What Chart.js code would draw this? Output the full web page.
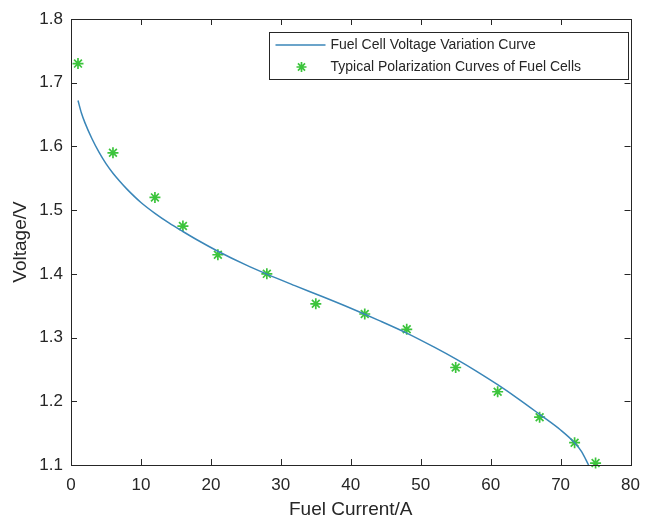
<!DOCTYPE html>
<html>
<head>
<meta charset="utf-8">
<script src="https://cdn.jsdelivr.net/npm/chart.js@4"></script>
<style>
  html, body { margin: 0; padding: 0; background: #fff; }
</style>
</head>
<body>
<canvas id="myChart" width="650" height="521"></canvas>
<script>
// fitted voltage curve
const curveX = [1, 1.5, 2, 3, 4, 5, 6, 7, 8, 10, 12, 14, 16, 18, 21, 25, 28, 32, 36, 40, 44, 48, 52, 55, 58, 61, 64, 67, 70, 72, 73, 74];
const curveY = [1.672, 1.652, 1.637, 1.612, 1.591, 1.573, 1.558, 1.545, 1.533, 1.512, 1.495, 1.480, 1.4665, 1.4535, 1.4355, 1.414, 1.3995, 1.3815, 1.364, 1.346, 1.327, 1.307, 1.2845, 1.2665, 1.247, 1.226, 1.2035, 1.1795, 1.155, 1.135, 1.121, 1.100];

// measured polarization points
const pointX = [1, 6, 12, 16, 21, 28, 35, 42, 48, 55, 61, 67, 72, 75];
const pointY = [1.73, 1.59, 1.52, 1.475, 1.43, 1.40, 1.353, 1.337, 1.313, 1.253, 1.215, 1.175, 1.135, 1.103];

const xTicks = [0, 10, 20, 30, 40, 50, 60, 70, 80];
const yTicks = [1.1, 1.2, 1.3, 1.4, 1.5, 1.6, 1.7, 1.8];

const lineLabel = "Fuel Cell Voltage Variation Curve";
const pointLabel = "Typical Polarization Curves of Fuel Cells";

const axisColor = "#262626";
const lineColor = "#3a86b8";
const starColor = "#3cc43c";

Chart.defaults.font.family = "'Liberation Sans', Arial, sans-serif";
Chart.defaults.color = axisColor;

const data = {
  datasets: [
    {
      label: lineLabel,
      data: curveX.map((x, i) => ({ x, y: curveY[i] })),
      showLine: true,
      borderColor: lineColor,
      borderWidth: 1.5,
      pointRadius: 0,
      cubicInterpolationMode: "monotone",
    },
    {
      label: pointLabel,
      data: pointX.map((x, i) => ({ x, y: pointY[i] })),
      showLine: false,
      pointStyle: "star",
      pointRadius: 5.5,
      borderColor: starColor,
      backgroundColor: starColor,
      pointBorderWidth: 1.7,
      clip: false,
    },
  ],
};

// matlab-ish box with inward ticks and a framed legend
const boxPlugin = {
  id: "box",
  afterDraw(chart) {
    const { ctx, chartArea: a, scales: { x, y } } = chart;
    ctx.save();
    ctx.strokeStyle = axisColor;
    ctx.lineWidth = 1;
    ctx.strokeRect(Math.round(a.left) + 0.5, Math.round(a.top) + 0.5,
      Math.round(a.right - a.left), Math.round(a.bottom - a.top));
    ctx.beginPath();
    xTicks.forEach(v => {
      const px = Math.round(x.getPixelForValue(v)) + 0.5;
      ctx.moveTo(px, a.bottom); ctx.lineTo(px, a.bottom - 6);
      ctx.moveTo(px, a.top); ctx.lineTo(px, a.top + 6);
    });
    yTicks.forEach(v => {
      const py = Math.round(y.getPixelForValue(v)) + 0.5;
      ctx.moveTo(a.left, py); ctx.lineTo(a.left + 6, py);
      ctx.moveTo(a.right, py); ctx.lineTo(a.right - 6, py);
    });
    ctx.stroke();

    // legend
    const w = 359, h = 47;
    const lx = Math.round(a.right - 3 - w) + 0.5, ly = Math.round(a.top + 13) + 0.5;
    ctx.fillStyle = "#fff";
    ctx.fillRect(lx, ly, w, h);
    ctx.strokeStyle = axisColor;
    ctx.strokeRect(lx, ly, w, h);
    const row1 = ly + 12.5, row2 = ly + 34.5;
    ctx.strokeStyle = lineColor;
    ctx.lineWidth = 1.5;
    ctx.beginPath();
    ctx.moveTo(lx + 6, row1); ctx.lineTo(lx + 56, row1);
    ctx.stroke();
    ctx.strokeStyle = starColor;
    ctx.fillStyle = starColor;
    ctx.lineWidth = 1.7;
    Chart.helpers.drawPoint(ctx, { pointStyle: "star", radius: 5, borderWidth: 1.7 }, lx + 32, row2);
    ctx.fillStyle = axisColor;
    ctx.font = "14px 'Liberation Sans', Arial, sans-serif";
    ctx.textBaseline = "middle";
    ctx.fillText(lineLabel, lx + 61, row1);
    ctx.fillText(pointLabel, lx + 61, row2);
    ctx.restore();
  },
};

const options = {
  responsive: false,
  animation: false,
  layout: { padding: { top: 19, right: 11, left: 0, bottom: 0 } },
  plugins: { legend: { display: false }, tooltip: { enabled: false } },
  scales: {
    x: {
      type: "linear",
      min: 0, max: 80,
      afterBuildTicks: s => { s.ticks = xTicks.map(v => ({ value: v })); },
      afterFit: s => { s.height = 56; },
      grid: { display: false, drawTicks: false },
      border: { display: false },
      ticks: { font: { size: 17 }, padding: 10, maxRotation: 0 },
      title: { display: true, text: "Fuel Current/A", font: { size: 19 }, padding: { top: 0, bottom: 0 } },
    },
    y: {
      type: "linear",
      min: 1.1, max: 1.8,
      afterBuildTicks: s => { s.ticks = yTicks.map(v => ({ value: v })); },
      afterFit: s => { s.width = 71; },
      grid: { display: false, drawTicks: false },
      border: { display: false },
      ticks: { font: { size: 17 }, padding: 8, callback: v => v.toFixed(1) },
      title: { display: true, text: "Voltage/V", font: { size: 19 }, padding: { top: 9.5, bottom: 0 } },
    },
  },
};

new Chart(document.getElementById("myChart").getContext("2d"), {
  type: "scatter",
  data,
  options,
  plugins: [boxPlugin],
});
</script>
</body>
</html>
